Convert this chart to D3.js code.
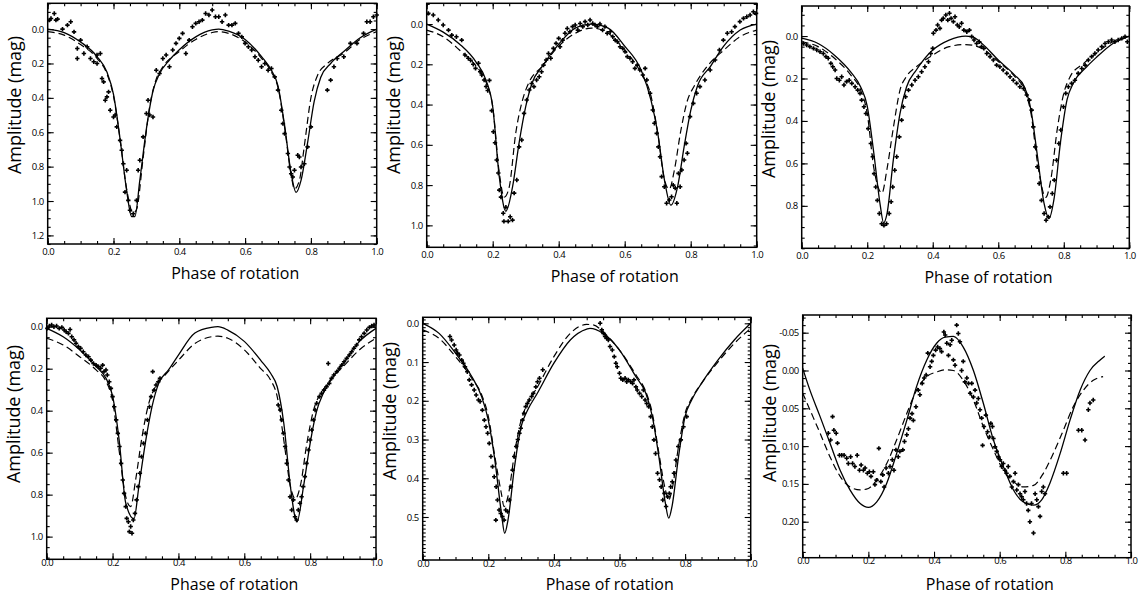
<!DOCTYPE html>
<html>
<head>
<meta charset="utf-8">
<script src="https://cdn.jsdelivr.net/npm/d3@7"></script>
<style>
  body { margin: 0; background: #fff; }
  svg { display: block; }
</style>
</head>
<body>
<div id="content"></div>
<script>
// ---------------- data: [phase, amplitude(mag)] ----------------
const xTicks = [0, 0.2, 0.4, 0.6, 0.8, 1.0];

// panel 1
const p1Ticks = [0, 0.2, 0.4, 0.6, 0.8, 1.0, 1.2];
const p1Solid = [[0,0.0],[0.05,0.02],[0.1,0.075],[0.15,0.16],[0.18,0.25],[0.2,0.38],[0.22,0.64],[0.24,0.94],[0.255,1.09],[0.265,1.09],[0.28,0.88],[0.3,0.58],[0.32,0.36],[0.34,0.26],[0.37,0.18],[0.4,0.12],[0.45,0.045],[0.5,0.005],[0.52,0.0],[0.55,0.012],[0.6,0.06],[0.65,0.16],[0.68,0.24],[0.7,0.33],[0.72,0.56],[0.74,0.84],[0.755,0.95],[0.77,0.88],[0.79,0.66],[0.81,0.42],[0.83,0.28],[0.86,0.2],[0.9,0.13],[0.95,0.05],[1.0,0.0]];
const p1Dashed = [[0,0.015],[0.05,0.035],[0.1,0.09],[0.15,0.17],[0.18,0.26],[0.2,0.39],[0.22,0.64],[0.24,0.93],[0.26,1.07],[0.27,1.05],[0.29,0.75],[0.31,0.45],[0.33,0.29],[0.35,0.22],[0.4,0.13],[0.45,0.06],[0.5,0.02],[0.52,0.015],[0.55,0.025],[0.6,0.075],[0.65,0.17],[0.68,0.25],[0.7,0.34],[0.72,0.57],[0.74,0.85],[0.75,0.93],[0.765,0.88],[0.78,0.68],[0.8,0.4],[0.82,0.27],[0.85,0.2],[0.9,0.14],[0.95,0.06],[1.0,0.015]];
const p1Points = [[0.005,-0.052],[0.01,-0.062],[0.02,-0.091],[0.025,-0.052],[0.03,-0.058],[0.045,0.0],[0.06,-0.023],[0.07,-0.043],[0.08,0.016],[0.09,0.113],[0.09,0.171],[0.1,0.064],[0.11,0.142],[0.12,0.103],[0.13,0.171],[0.14,0.19],[0.15,0.151],[0.15,0.2],[0.16,0.142],[0.165,0.287],[0.17,0.307],[0.175,0.414],[0.18,0.394],[0.185,0.365],[0.19,0.472],[0.2,0.511],[0.205,0.5],[0.21,0.569],[0.22,0.647],[0.225,0.705],[0.23,0.783],[0.235,0.948],[0.24,0.821],[0.245,0.996],[0.25,1.054],[0.26,1.074],[0.27,0.996],[0.275,0.821],[0.28,0.763],[0.29,0.627],[0.3,0.491],[0.305,0.414],[0.31,0.5],[0.32,0.511],[0.33,0.239],[0.34,0.258],[0.35,0.171],[0.36,0.151],[0.37,0.219],[0.38,0.122],[0.39,0.083],[0.4,0.054],[0.41,0.025],[0.42,0.142],[0.43,0.064],[0.44,-0.014],[0.45,-0.033],[0.46,-0.043],[0.47,-0.052],[0.48,-0.091],[0.49,-0.082],[0.5,-0.111],[0.51,-0.072],[0.52,-0.072],[0.53,-0.043],[0.54,-0.082],[0.55,-0.023],[0.56,-0.023],[0.57,-0.033],[0.58,0.025],[0.59,0.045],[0.6,0.083],[0.61,0.103],[0.62,0.122],[0.63,0.161],[0.64,0.181],[0.65,0.219],[0.66,0.2],[0.67,0.239],[0.68,0.229],[0.69,0.278],[0.7,0.355],[0.71,0.472],[0.715,0.55],[0.72,0.608],[0.73,0.724],[0.735,0.802],[0.74,0.841],[0.745,0.86],[0.75,0.821],[0.76,0.734],[0.765,0.744],[0.77,0.802],[0.78,0.783],[0.79,0.685],[0.8,0.569],[0.85,0.355],[0.86,0.297],[0.87,0.219],[0.88,0.171],[0.9,0.161],[0.92,0.083],[0.94,0.083],[0.96,0.025],[0.97,-0.043],[0.98,-0.043],[0.99,-0.072],[1.0,-0.082]];

// panel 2
const p2Ticks = [0, 0.2, 0.4, 0.6, 0.8, 1.0];
const p2Solid = [[0,0.0],[0.05,0.04],[0.1,0.1],[0.15,0.19],[0.18,0.28],[0.2,0.41],[0.22,0.76],[0.24,0.93],[0.26,0.81],[0.28,0.59],[0.3,0.41],[0.32,0.29],[0.35,0.21],[0.4,0.1],[0.45,0.02],[0.5,0.0],[0.55,0.02],[0.6,0.11],[0.65,0.23],[0.68,0.38],[0.7,0.54],[0.72,0.77],[0.74,0.9],[0.76,0.81],[0.78,0.61],[0.8,0.43],[0.82,0.31],[0.86,0.21],[0.9,0.11],[0.95,0.03],[1.0,0.0]];
const p2Dashed = [[0,0.03],[0.05,0.063],[0.1,0.13],[0.15,0.21],[0.18,0.29],[0.2,0.41],[0.22,0.74],[0.235,0.86],[0.25,0.81],[0.27,0.54],[0.29,0.38],[0.31,0.29],[0.35,0.21],[0.4,0.11],[0.45,0.046],[0.5,0.02],[0.55,0.046],[0.6,0.13],[0.65,0.245],[0.68,0.36],[0.7,0.54],[0.72,0.77],[0.735,0.82],[0.75,0.73],[0.77,0.53],[0.79,0.38],[0.81,0.31],[0.85,0.21],[0.9,0.13],[0.95,0.063],[1.0,0.03]];
const p2Points = [[0.005,-0.053],[0.02,-0.045],[0.035,-0.02],[0.05,0.005],[0.066,0.03],[0.076,0.055],[0.09,0.063],[0.106,0.08],[0.116,0.154],[0.126,0.17],[0.133,0.18],[0.141,0.2],[0.148,0.22],[0.157,0.195],[0.162,0.237],[0.167,0.253],[0.174,0.278],[0.18,0.31],[0.185,0.33],[0.19,0.28],[0.197,0.43],[0.202,0.535],[0.207,0.59],[0.212,0.675],[0.217,0.74],[0.22,0.825],[0.225,0.86],[0.232,0.94],[0.234,0.98],[0.24,0.91],[0.247,0.98],[0.253,0.957],[0.26,0.974],[0.265,0.84],[0.273,0.775],[0.28,0.61],[0.288,0.576],[0.295,0.444],[0.303,0.377],[0.311,0.328],[0.318,0.295],[0.325,0.311],[0.333,0.278],[0.341,0.262],[0.348,0.237],[0.354,0.204],[0.362,0.179],[0.369,0.146],[0.376,0.17],[0.384,0.121],[0.392,0.096],[0.4,0.071],[0.404,0.113],[0.412,0.08],[0.419,0.046],[0.426,0.022],[0.434,0.038],[0.442,0.013],[0.45,0.005],[0.458,0.03],[0.465,-0.003],[0.473,0.013],[0.48,-0.012],[0.488,0.005],[0.495,-0.02],[0.503,-0.003],[0.51,0.005],[0.517,0.013],[0.525,0.0],[0.533,0.03],[0.54,0.013],[0.547,0.046],[0.556,0.038],[0.564,0.063],[0.571,0.08],[0.578,0.088],[0.586,0.113],[0.594,0.121],[0.601,0.137],[0.608,0.162],[0.616,0.17],[0.624,0.187],[0.631,0.22],[0.638,0.204],[0.646,0.228],[0.655,0.253],[0.662,0.22],[0.667,0.278],[0.677,0.344],[0.685,0.427],[0.69,0.493],[0.697,0.543],[0.702,0.61],[0.707,0.659],[0.712,0.758],[0.72,0.808],[0.727,0.89],[0.735,0.874],[0.742,0.858],[0.747,0.8],[0.753,0.815],[0.758,0.89],[0.763,0.742],[0.768,0.808],[0.773,0.725],[0.78,0.675],[0.786,0.593],[0.79,0.642],[0.798,0.46],[0.808,0.394],[0.818,0.344],[0.828,0.311],[0.843,0.278],[0.859,0.228],[0.874,0.179],[0.887,0.129],[0.899,0.08],[0.911,0.046],[0.924,0.038],[0.934,0.013],[0.949,-0.012],[0.96,-0.028],[0.97,-0.036],[0.98,-0.045],[0.99,-0.061],[0.998,-0.053]];

// panel 3
const p3Ticks = [0, 0.2, 0.4, 0.6, 0.8];
const p3Solid = [[0,0.01],[0.05,0.035],[0.1,0.09],[0.15,0.17],[0.18,0.24],[0.2,0.33],[0.22,0.55],[0.24,0.8],[0.25,0.88],[0.26,0.84],[0.28,0.58],[0.3,0.365],[0.32,0.24],[0.35,0.16],[0.4,0.066],[0.45,0.019],[0.5,0.0],[0.52,0.003],[0.55,0.035],[0.6,0.113],[0.65,0.184],[0.68,0.24],[0.7,0.35],[0.72,0.57],[0.74,0.79],[0.755,0.86],[0.77,0.77],[0.79,0.5],[0.81,0.3],[0.83,0.22],[0.87,0.145],[0.9,0.1],[0.95,0.035],[1.0,0.0]];
const p3Dashed = [[0,0.027],[0.05,0.05],[0.1,0.105],[0.15,0.184],[0.18,0.255],[0.2,0.365],[0.22,0.62],[0.245,0.74],[0.26,0.63],[0.28,0.43],[0.3,0.255],[0.32,0.19],[0.35,0.145],[0.4,0.09],[0.45,0.05],[0.5,0.04],[0.55,0.058],[0.6,0.12],[0.65,0.19],[0.68,0.255],[0.7,0.365],[0.72,0.6],[0.745,0.76],[0.76,0.68],[0.78,0.44],[0.8,0.27],[0.82,0.19],[0.86,0.13],[0.9,0.08],[0.95,0.027],[1.0,0.003]];
const p3Points = [[0.005,0.035],[0.015,0.042],[0.025,0.05],[0.036,0.058],[0.046,0.066],[0.056,0.074],[0.066,0.082],[0.074,0.097],[0.081,0.105],[0.089,0.129],[0.095,0.145],[0.102,0.16],[0.107,0.2],[0.115,0.208],[0.122,0.192],[0.129,0.231],[0.137,0.215],[0.145,0.208],[0.153,0.223],[0.163,0.239],[0.171,0.255],[0.178,0.27],[0.183,0.302],[0.19,0.333],[0.196,0.365],[0.203,0.436],[0.211,0.506],[0.217,0.569],[0.221,0.648],[0.226,0.711],[0.231,0.774],[0.237,0.836],[0.244,0.884],[0.251,0.892],[0.259,0.884],[0.267,0.836],[0.273,0.781],[0.278,0.711],[0.284,0.632],[0.29,0.569],[0.298,0.475],[0.305,0.396],[0.31,0.333],[0.317,0.286],[0.326,0.255],[0.336,0.231],[0.346,0.208],[0.356,0.192],[0.366,0.168],[0.376,0.145],[0.387,0.121],[0.394,0.082],[0.4,0.058],[0.402,-0.013],[0.41,-0.028],[0.415,-0.052],[0.422,-0.036],[0.427,-0.075],[0.432,-0.083],[0.44,-0.099],[0.446,-0.075],[0.451,-0.107],[0.456,-0.083],[0.463,-0.068],[0.468,-0.091],[0.475,-0.052],[0.481,-0.044],[0.488,-0.06],[0.495,-0.028],[0.504,-0.02],[0.512,-0.028],[0.519,0.003],[0.526,0.019],[0.534,0.035],[0.542,0.027],[0.549,0.05],[0.556,0.058],[0.565,0.082],[0.575,0.097],[0.585,0.113],[0.595,0.137],[0.605,0.145],[0.615,0.16],[0.626,0.176],[0.636,0.192],[0.646,0.208],[0.656,0.223],[0.666,0.239],[0.677,0.247],[0.687,0.278],[0.695,0.302],[0.702,0.349],[0.707,0.428],[0.713,0.522],[0.719,0.616],[0.725,0.695],[0.732,0.774],[0.74,0.836],[0.746,0.868],[0.753,0.852],[0.758,0.805],[0.765,0.742],[0.771,0.679],[0.778,0.585],[0.785,0.506],[0.791,0.443],[0.799,0.333],[0.806,0.27],[0.814,0.239],[0.824,0.223],[0.834,0.208],[0.844,0.176],[0.855,0.153],[0.865,0.137],[0.875,0.113],[0.885,0.097],[0.895,0.082],[0.905,0.066],[0.916,0.05],[0.926,0.035],[0.936,0.027],[0.946,0.019],[0.956,0.027],[0.966,0.019],[0.977,0.011],[0.987,0.003],[0.994,0.027]];

// panel 4
const p4Ticks = [0, 0.2, 0.4, 0.6, 0.8, 1.0];
const p4Solid = [[0,0.008],[0.05,0.048],[0.1,0.11],[0.15,0.19],[0.18,0.246],[0.2,0.33],[0.22,0.54],[0.24,0.84],[0.265,0.915],[0.28,0.76],[0.3,0.55],[0.32,0.38],[0.34,0.27],[0.37,0.206],[0.4,0.135],[0.45,0.03],[0.5,0.003],[0.52,0.0],[0.55,0.016],[0.6,0.07],[0.65,0.16],[0.68,0.222],[0.7,0.286],[0.72,0.46],[0.74,0.76],[0.76,0.93],[0.78,0.76],[0.8,0.556],[0.82,0.4],[0.84,0.317],[0.87,0.238],[0.9,0.175],[0.95,0.07],[1.0,0.008]];
const p4Dashed = [[0,0.055],[0.05,0.087],[0.1,0.143],[0.15,0.206],[0.18,0.26],[0.2,0.35],[0.22,0.59],[0.24,0.81],[0.255,0.857],[0.27,0.73],[0.29,0.52],[0.31,0.365],[0.33,0.286],[0.36,0.23],[0.4,0.16],[0.45,0.08],[0.5,0.048],[0.52,0.045],[0.55,0.055],[0.6,0.11],[0.65,0.2],[0.68,0.254],[0.7,0.333],[0.72,0.54],[0.74,0.76],[0.755,0.82],[0.77,0.76],[0.79,0.556],[0.81,0.4],[0.84,0.3],[0.87,0.238],[0.9,0.19],[0.95,0.11],[1.0,0.055]];
const p4Points = [[0.002,0.008],[0.008,-0.003],[0.015,-0.008],[0.022,0.0],[0.03,-0.003],[0.038,0.008],[0.046,0.003],[0.053,0.016],[0.059,0.024],[0.066,0.032],[0.071,0.013],[0.076,0.048],[0.083,0.063],[0.089,0.079],[0.096,0.095],[0.103,0.103],[0.111,0.119],[0.119,0.135],[0.127,0.143],[0.134,0.159],[0.142,0.175],[0.15,0.183],[0.157,0.19],[0.164,0.198],[0.17,0.183],[0.174,0.214],[0.18,0.206],[0.184,0.23],[0.19,0.262],[0.195,0.294],[0.2,0.333],[0.205,0.381],[0.211,0.444],[0.216,0.508],[0.221,0.571],[0.226,0.651],[0.231,0.73],[0.235,0.794],[0.24,0.857],[0.243,0.913],[0.248,0.929],[0.251,0.976],[0.255,0.952],[0.259,0.984],[0.263,0.921],[0.268,0.889],[0.273,0.825],[0.278,0.762],[0.283,0.698],[0.288,0.619],[0.294,0.556],[0.3,0.508],[0.306,0.444],[0.312,0.381],[0.317,0.333],[0.322,0.214],[0.326,0.302],[0.332,0.278],[0.339,0.262],[0.344,0.246],[0.703,0.373],[0.709,0.397],[0.714,0.444],[0.719,0.508],[0.724,0.571],[0.729,0.651],[0.734,0.73],[0.739,0.81],[0.744,0.873],[0.749,0.825],[0.754,0.905],[0.759,0.921],[0.764,0.873],[0.769,0.841],[0.774,0.81],[0.779,0.762],[0.784,0.714],[0.789,0.651],[0.795,0.587],[0.8,0.54],[0.805,0.492],[0.81,0.444],[0.815,0.397],[0.82,0.365],[0.828,0.333],[0.835,0.317],[0.842,0.302],[0.85,0.286],[0.855,0.175],[0.858,0.27],[0.865,0.246],[0.872,0.23],[0.881,0.214],[0.889,0.198],[0.896,0.183],[0.903,0.167],[0.911,0.151],[0.919,0.135],[0.926,0.119],[0.933,0.103],[0.941,0.087],[0.949,0.063],[0.956,0.048],[0.964,0.032],[0.972,0.016],[0.98,0.003],[0.987,-0.003],[0.994,-0.008]];

// panel 5
const p5Ticks = [0, 0.1, 0.2, 0.3, 0.4, 0.5];
const p5Solid = [[0,0.0],[0.05,0.026],[0.1,0.077],[0.15,0.138],[0.18,0.19],[0.2,0.25],[0.22,0.353],[0.24,0.49],[0.25,0.542],[0.26,0.508],[0.28,0.37],[0.3,0.267],[0.32,0.224],[0.35,0.18],[0.4,0.103],[0.45,0.043],[0.5,0.015],[0.51,0.013],[0.55,0.026],[0.6,0.069],[0.65,0.138],[0.68,0.18],[0.7,0.24],[0.72,0.344],[0.74,0.465],[0.75,0.503],[0.76,0.473],[0.78,0.344],[0.8,0.24],[0.82,0.198],[0.85,0.155],[0.9,0.095],[0.95,0.043],[1.0,0.0]];
const p5Dashed = [[0,0.017],[0.05,0.039],[0.1,0.086],[0.15,0.142],[0.18,0.185],[0.2,0.24],[0.22,0.344],[0.24,0.44],[0.248,0.473],[0.26,0.447],[0.28,0.335],[0.3,0.25],[0.32,0.207],[0.35,0.164],[0.4,0.086],[0.45,0.026],[0.5,0.003],[0.52,0.004],[0.55,0.022],[0.6,0.069],[0.65,0.133],[0.68,0.176],[0.7,0.232],[0.72,0.335],[0.74,0.43],[0.75,0.456],[0.76,0.43],[0.78,0.318],[0.8,0.232],[0.82,0.194],[0.85,0.155],[0.9,0.1],[0.95,0.052],[1.0,0.013]];
const p5Points = [[0.083,0.034],[0.088,0.043],[0.096,0.056],[0.102,0.069],[0.106,0.077],[0.112,0.082],[0.119,0.095],[0.124,0.103],[0.129,0.112],[0.136,0.125],[0.142,0.146],[0.149,0.159],[0.157,0.172],[0.163,0.185],[0.17,0.198],[0.175,0.202],[0.182,0.224],[0.188,0.25],[0.193,0.267],[0.198,0.284],[0.203,0.31],[0.208,0.344],[0.213,0.37],[0.218,0.396],[0.224,0.422],[0.223,0.508],[0.228,0.456],[0.233,0.482],[0.238,0.491],[0.243,0.499],[0.248,0.508],[0.253,0.482],[0.259,0.486],[0.264,0.456],[0.269,0.422],[0.274,0.379],[0.279,0.344],[0.285,0.318],[0.29,0.3],[0.295,0.284],[0.299,0.271],[0.304,0.25],[0.309,0.232],[0.314,0.215],[0.319,0.207],[0.325,0.198],[0.332,0.189],[0.337,0.181],[0.345,0.164],[0.35,0.151],[0.356,0.142],[0.366,0.12],[0.541,0.0],[0.546,0.017],[0.551,0.026],[0.556,0.034],[0.561,0.039],[0.566,0.043],[0.571,0.06],[0.578,0.069],[0.584,0.086],[0.589,0.103],[0.593,0.112],[0.6,0.129],[0.604,0.142],[0.61,0.146],[0.617,0.142],[0.622,0.151],[0.627,0.146],[0.634,0.151],[0.64,0.155],[0.644,0.146],[0.65,0.164],[0.654,0.172],[0.661,0.181],[0.668,0.189],[0.673,0.172],[0.678,0.198],[0.683,0.207],[0.689,0.215],[0.695,0.241],[0.7,0.267],[0.705,0.301],[0.71,0.336],[0.716,0.387],[0.722,0.404],[0.727,0.422],[0.732,0.456],[0.737,0.439],[0.742,0.473],[0.747,0.448],[0.752,0.439],[0.756,0.422],[0.761,0.409],[0.766,0.387],[0.772,0.353],[0.779,0.318],[0.787,0.301],[0.795,0.267],[0.805,0.241]];

// panel 6
const p6Ticks = [-0.05, 0, 0.05, 0.1, 0.15, 0.2];
const p6Solid = [[0,-0.003],[0.022,0.026],[0.053,0.061],[0.083,0.096],[0.114,0.132],[0.144,0.158],[0.175,0.176],[0.2,0.181],[0.225,0.174],[0.256,0.149],[0.286,0.11],[0.317,0.066],[0.347,0.021],[0.378,-0.014],[0.408,-0.036],[0.434,-0.044],[0.459,-0.045],[0.489,-0.031],[0.52,0.0],[0.55,0.043],[0.581,0.092],[0.611,0.127],[0.642,0.158],[0.672,0.174],[0.703,0.178],[0.728,0.171],[0.753,0.149],[0.784,0.11],[0.814,0.066],[0.845,0.026],[0.875,0.0],[0.906,-0.014],[0.92,-0.019]];
const p6Dashed = [[0,0.03],[0.022,0.052],[0.053,0.083],[0.083,0.114],[0.114,0.14],[0.144,0.154],[0.175,0.158],[0.2,0.156],[0.225,0.145],[0.256,0.123],[0.286,0.092],[0.317,0.057],[0.347,0.026],[0.378,0.008],[0.408,0.002],[0.434,-0.001],[0.459,0.0],[0.489,0.013],[0.52,0.039],[0.55,0.074],[0.581,0.105],[0.611,0.132],[0.642,0.147],[0.672,0.154],[0.703,0.152],[0.733,0.136],[0.763,0.11],[0.794,0.079],[0.824,0.048],[0.855,0.026],[0.885,0.013],[0.915,0.008]];
const p6Points = [[0.078,0.083],[0.085,0.092],[0.091,0.061],[0.095,0.079],[0.102,0.083],[0.106,0.096],[0.112,0.112],[0.119,0.112],[0.126,0.112],[0.134,0.116],[0.139,0.123],[0.146,0.114],[0.152,0.123],[0.159,0.127],[0.166,0.112],[0.173,0.132],[0.178,0.125],[0.185,0.132],[0.19,0.129],[0.197,0.136],[0.203,0.134],[0.208,0.14],[0.215,0.134],[0.22,0.151],[0.225,0.145],[0.232,0.103],[0.238,0.147],[0.244,0.138],[0.248,0.154],[0.254,0.129],[0.261,0.136],[0.266,0.127],[0.273,0.118],[0.278,0.132],[0.284,0.105],[0.291,0.114],[0.296,0.107],[0.305,0.105],[0.31,0.094],[0.317,0.085],[0.322,0.077],[0.327,0.063],[0.333,0.057],[0.337,0.066],[0.345,0.048],[0.352,0.026],[0.357,0.032],[0.364,0.017],[0.37,0.01],[0.376,0.006],[0.381,-0.023],[0.388,-0.005],[0.393,-0.012],[0.398,-0.02],[0.405,-0.027],[0.411,-0.031],[0.418,-0.029],[0.423,-0.025],[0.43,-0.051],[0.434,-0.047],[0.439,-0.036],[0.444,-0.02],[0.449,-0.034],[0.454,-0.04],[0.459,-0.014],[0.464,-0.007],[0.469,-0.06],[0.474,-0.049],[0.479,-0.038],[0.484,0.0],[0.489,-0.012],[0.494,0.015],[0.5,0.01],[0.505,0.017],[0.51,0.03],[0.515,0.017],[0.52,0.035],[0.525,0.026],[0.53,0.043],[0.535,0.037],[0.54,0.052],[0.545,0.063],[0.548,0.099],[0.552,0.074],[0.558,0.059],[0.563,0.081],[0.569,0.088],[0.573,0.07],[0.578,0.074],[0.581,0.09],[0.586,0.101],[0.591,0.107],[0.596,0.114],[0.601,0.118],[0.606,0.127],[0.611,0.123],[0.616,0.132],[0.621,0.136],[0.626,0.127],[0.631,0.14],[0.637,0.154],[0.642,0.147],[0.647,0.136],[0.652,0.158],[0.657,0.151],[0.662,0.163],[0.667,0.167],[0.672,0.171],[0.677,0.16],[0.682,0.176],[0.687,0.185],[0.692,0.2],[0.697,0.176],[0.703,0.215],[0.708,0.163],[0.713,0.171],[0.718,0.18],[0.723,0.193],[0.728,0.16],[0.733,0.154],[0.738,0.163],[0.794,0.136],[0.804,0.136],[0.84,0.079],[0.85,0.079],[0.86,0.092],[0.87,0.052],[0.875,0.043],[0.885,0.039]];

// ---------------- layout ----------------
const W = 1143, H = 596;
const panels = [
  { box: [47.7, 3.3, 376.7, 244],   yDomain: [-0.15, 1.25],   ticks: p1Ticks, minor: 0.05, dec: 1, solid: p1Solid, dashed: p1Dashed, points: p1Points, row: 0, yLab: 105 },
  { box: [426.7, 3.3, 756.7, 247.3], yDomain: [-0.103, 1.109], ticks: p2Ticks, minor: 0.05, dec: 1, solid: p2Solid, dashed: p2Dashed, points: p2Points, row: 0, yLab: 105 },
  { box: [801.7, 6, 1129.3, 248.3], yDomain: [-0.1415, 1.0],  ticks: p3Ticks, minor: 0.05, dec: 1, solid: p3Solid, dashed: p3Dashed, points: p3Points, row: 0, yLab: 109 },
  { box: [46.7, 318.3, 376, 559.3], yDomain: [-0.04, 1.108],  ticks: p4Ticks, minor: 0.05, dec: 1, solid: p4Solid, dashed: p4Dashed, points: p4Points, row: 1, yLab: 414 },
  { box: [422.7, 317.3, 750.7, 560], yDomain: [-0.0155, 0.611], ticks: p5Ticks, minor: 0.01, dec: 1, solid: p5Solid, dashed: p5Dashed, points: p5Points, row: 1, yLab: 411 },
  { box: [802.7, 315, 1131, 557.7], yDomain: [-0.0734, 0.2476], ticks: p6Ticks, minor: 0.01, dec: 2, solid: p6Solid, dashed: p6Dashed, points: p6Points, row: 1, yLab: 413 }
];

const svg = d3.select("#content")
  .append("svg")
  .attr("width", W)
  .attr("height", H);
svg.append("rect").attr("width", W).attr("height", H).attr("fill", "#fff");

const FONT = "'Open Sans', 'Noto Sans', sans-serif";

for (const p of panels) drawPanel(p);

function drawPanel(p) {
  const [x0, y0, x1, y1] = p.box;
  const x = d3.scaleLinear().domain([0, 1]).range([x0, x1]);
  const y = d3.scaleLinear().domain(p.yDomain).range([y0, y1]);
  const g = svg.append("g");

  const xMinor = d3.range(0, 1.0001, 0.05);
  const yMinor = d3.range(Math.ceil(p.yDomain[0] / p.minor - 1e-6), Math.floor(p.yDomain[1] / p.minor + 1e-6) + 1)
    .map(k => +(k * p.minor).toFixed(4));
  const pad = p.row === 0 ? 4 : 0;

  // inward ticks on all four sides, labels only bottom / left
  const styleAxis = sel => {
    sel.select(".domain").remove();
    sel.selectAll("line").attr("stroke", "#000").attr("stroke-width", 1.1);
    sel.selectAll("text").attr("font-family", FONT).attr("font-size", 9.5).attr("fill", "#000").attr("letter-spacing", -0.5);
  };
  g.append("g").attr("transform", `translate(0,${y1})`)
    .call(d3.axisBottom(x).tickValues(xMinor).tickSize(-3).tickFormat(""))
    .call(styleAxis);
  g.append("g").attr("transform", `translate(0,${y1})`)
    .call(d3.axisBottom(x).tickValues(xTicks).tickSize(-6).tickPadding(pad).tickFormat(d => d.toFixed(1)))
    .call(styleAxis);
  g.append("g").attr("transform", `translate(0,${y0})`)
    .call(d3.axisTop(x).tickValues(xMinor).tickSize(-3).tickFormat(""))
    .call(styleAxis);
  g.append("g").attr("transform", `translate(0,${y0})`)
    .call(d3.axisTop(x).tickValues(xTicks).tickSize(-6).tickFormat(""))
    .call(styleAxis);

  g.append("g").attr("transform", `translate(${x0},0)`)
    .call(d3.axisLeft(y).tickValues(yMinor).tickSize(-3).tickFormat(""))
    .call(styleAxis);
  g.append("g").attr("transform", `translate(${x0},0)`)
    .call(d3.axisLeft(y).tickValues(p.ticks).tickSize(-6).tickPadding(4).tickFormat(d => d.toFixed(p.dec)))
    .call(styleAxis);
  g.append("g").attr("transform", `translate(${x1},0)`)
    .call(d3.axisRight(y).tickValues(yMinor).tickSize(-3).tickFormat(""))
    .call(styleAxis);
  g.append("g").attr("transform", `translate(${x1},0)`)
    .call(d3.axisRight(y).tickValues(p.ticks).tickSize(-6).tickFormat(""))
    .call(styleAxis);

  // frame
  g.append("rect")
    .attr("x", x0).attr("y", y0)
    .attr("width", x1 - x0).attr("height", y1 - y0)
    .attr("fill", "none").attr("stroke", "#000").attr("stroke-width", 1.5);

  const line = d3.line()
    .x(d => x(d[0]))
    .y(d => y(d[1]))
    .curve(d3.curveMonotoneX);

  g.append("path").attr("d", line(p.dashed))
    .attr("fill", "none").attr("stroke", "#000").attr("stroke-width", 1.2)
    .attr("stroke-dasharray", "7,4");
  g.append("path").attr("d", line(p.solid))
    .attr("fill", "none").attr("stroke", "#000").attr("stroke-width", 1.3);

  g.selectAll(".pt")
    .data(p.points)
    .enter()
      .append("path")
      .attr("class", "pt")
      .attr("transform", d => `translate(${x(d[0])},${y(d[1])})`)
      .attr("d", "M-2.2,0H2.2M0,-2.2V2.2")
      .attr("stroke", "#000")
      .attr("stroke-width", 1.6);

  // axis titles
  const cx = (x0 + x1) / 2 + 23;
  g.append("text")
    .attr("x", cx)
    .attr("y", p.row === 0 ? y1 + 35 : 590)
    .attr("text-anchor", "middle")
    .attr("font-family", FONT)
    .attr("font-size", p.row === 0 ? 17 : 16.5)
    .attr("textLength", 128)
    .attr("lengthAdjust", "spacingAndGlyphs")
    .text("Phase of rotation");

  g.append("text")
    .attr("transform", `translate(${x0 - 27},${p.yLab}) rotate(-90)`)
    .attr("text-anchor", "middle")
    .attr("font-family", FONT)
    .attr("font-size", 18)
    .attr("textLength", 138)
    .attr("lengthAdjust", "spacingAndGlyphs")
    .text("Amplitude (mag)");
}
</script>
</body>
</html>
